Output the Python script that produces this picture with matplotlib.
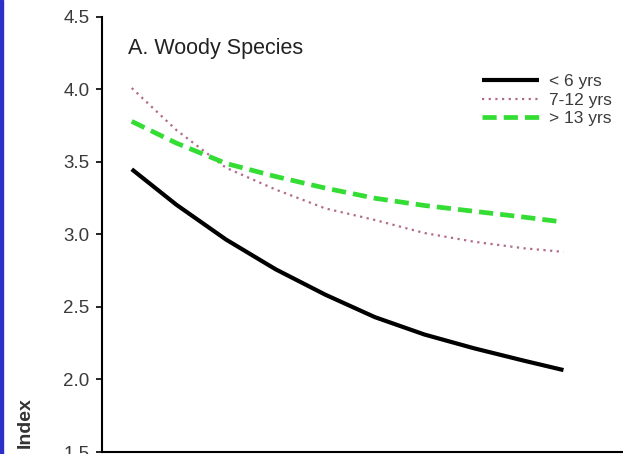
import matplotlib
matplotlib.use("Agg")
import matplotlib.pyplot as plt
from matplotlib.patches import Rectangle

plt.rcParams['font.family'] = ['Liberation Sans', 'DejaVu Sans']

# sampling positions along the x axis (shared by the three age classes)
x_pos = [0.6, 1.5, 2.5, 3.5, 4.5, 5.5, 6.5, 7.5, 8.5, 9.3]

# index values per stand age class
young = [3.45, 3.205, 2.965, 2.76, 2.585, 2.43, 2.31, 2.215, 2.13, 2.065]
middle = [4.01, 3.72, 3.46, 3.31, 3.18, 3.10, 3.01, 2.95, 2.905, 2.88]
old = [3.78, 3.63, 3.49, 3.40, 3.32, 3.25, 3.20, 3.16, 3.12, 3.09]

labels = ['< 6 yrs', '7-12 yrs', '> 13 yrs']
y_ticks = [1.5, 2.0, 2.5, 3.0, 3.5, 4.0, 4.5]

fig = plt.figure(figsize=(6.23, 4.54), dpi=100)
ax = fig.add_axes([0.1637, 0.0044, 0.8363, 0.9582])

ax.plot(x_pos, young, color='black', lw=3.0, solid_capstyle='butt', label=labels[0])
ax.plot(x_pos, middle, color='#b06a8a', lw=1.6, linestyle=(0, (1, 2.0)), label=labels[1])
ax.plot(x_pos[:-1] + [9.2], old, color='#33dd33', lw=3.4, linestyle=(0, (3, 1.5)),
        label=labels[2])

ax.set_xlim(0, 10.5)
ax.set_ylim(1.5, 4.5)
ax.set_yticks(y_ticks)
ax.set_yticklabels([f"{v:.1f}" for v in y_ticks])
ax.set_xticks([])
for side in ['top', 'right']:
    ax.spines[side].set_visible(False)
ax.spines['left'].set_linewidth(1.5)
ax.spines['bottom'].set_linewidth(1.5)
ax.tick_params(axis='y', direction='out', length=4, width=1.2, pad=5,
               labelsize=13.5, labelcolor='#3a3a3a')

ax.text(0.05, 0.915, 'A. Woody Species', transform=ax.transAxes,
        fontsize=15.5, color='#222222', ha='left', va='baseline')

fig.text(25 / 623, 1 - 423 / 454, 'Index', rotation=90, fontsize=14,
         fontweight='bold', color='#333333', ha='center', va='center')

leg = ax.legend(loc='upper left', bbox_to_anchor=(482 / 623, 1 - 74 / 454),
                bbox_transform=fig.transFigure, frameon=False, fontsize=12.5,
                handlelength=3.3, handletextpad=0.55, labelspacing=0.2,
                borderaxespad=0, borderpad=0)
for t in leg.get_texts():
    t.set_color('#3a3a3a')

# blue strip along the left edge
fig.patches.append(Rectangle((0, 0), 3 / 623, 1, transform=fig.transFigure,
                             color='#2e2ec8', zorder=10))

fig.savefig('out.png', dpi=100)
